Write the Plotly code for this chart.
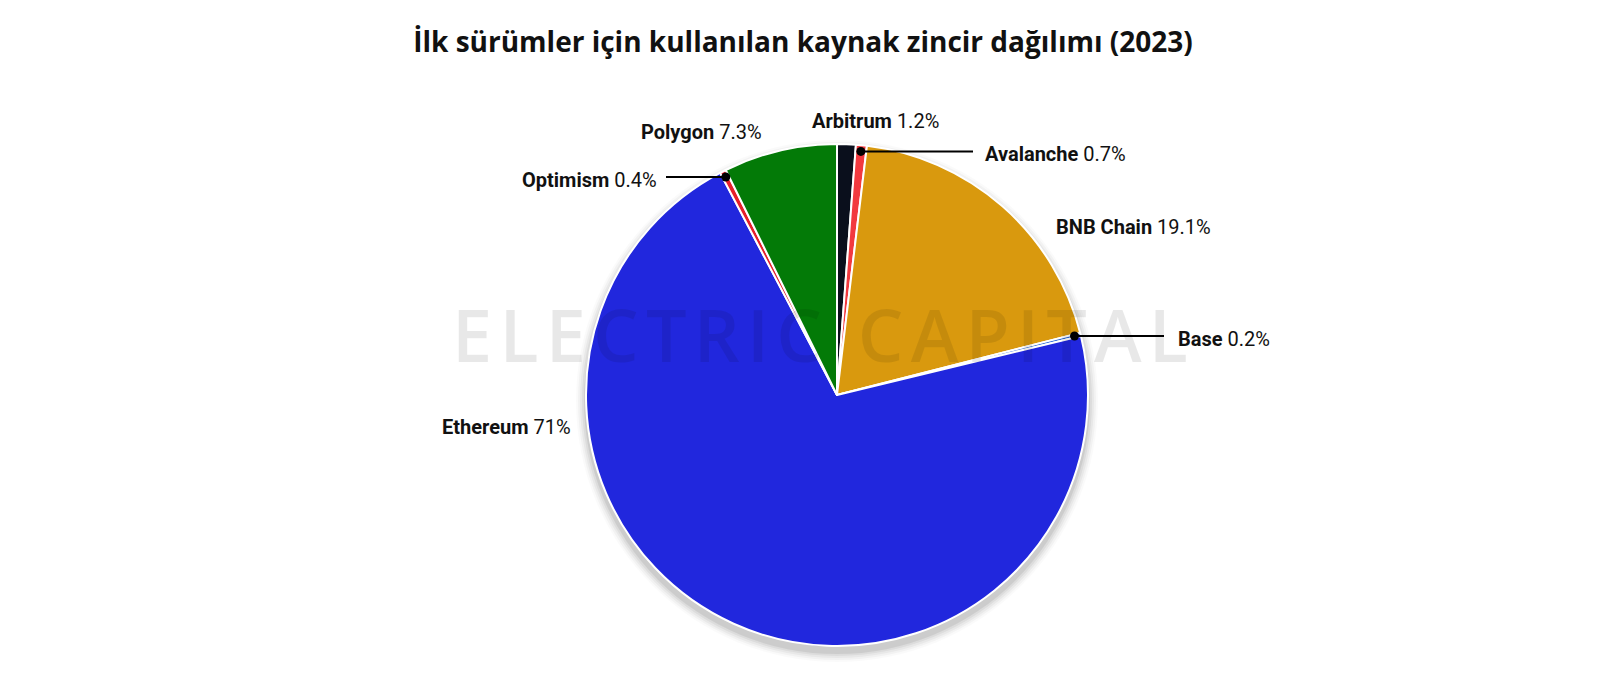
import math
import plotly.graph_objects as go

# ---- data ----
chains = ["Arbitrum", "Avalanche", "BNB Chain", "Base", "Ethereum", "Optimism", "Polygon"]
shares = [1.2, 0.7, 19.1, 0.2, 71.0, 0.4, 7.3]
pct_labels = ["1.2%", "0.7%", "19.1%", "0.2%", "71%", "0.4%", "7.3%"]
colors = ["#0a0f1c", "#f2393f", "#d9990e", "#1e5fd6", "#2127dd", "#e5202a", "#037a07"]

PAGE_W, PAGE_H = 1623, 695
OFF = 8                      # default html body margin
W, H = PAGE_W - 2 * OFF, PAGE_H - 2 * OFF
CX, CY, R = 837, 395, 251    # pie geometry in page px

def px(x, y):
    return (x - OFF) / W, 1 - (y - OFF) / H

fig = go.Figure()
dx0, dy0 = px(CX - R, CY + R)
dx1, dy1 = px(CX + R, CY - R)
fig.add_trace(go.Pie(
    labels=chains, values=shares, sort=False, direction="clockwise", rotation=0,
    marker=dict(colors=colors, line=dict(color="white", width=2)),
    textinfo="none", hoverinfo="label+percent", showlegend=False,
    domain=dict(x=[dx0, dx1], y=[dy0, dy1]),
))

shapes = []
# soft drop shadow behind the pie
for grow, op in [(10, 0.02), (8, 0.03), (6, 0.04), (4, 0.05), (2, 0.07)]:
    x0, y0 = px(CX - R - grow, CY - R - grow + 6)
    x1, y1 = px(CX + R + grow, CY + R + grow + 6)
    shapes.append(dict(type="circle", xref="paper", yref="paper", x0=x0, x1=x1, y0=y1, y1=y0,
                       fillcolor=f"rgba(0,0,0,{op})", line=dict(width=0), layer="below"))

total = sum(shares)
cum = 0
mid_angle = {}
for c, v in zip(chains, shares):
    mid_angle[c] = (cum + v / 2) / total * 2 * math.pi
    cum += v

# label layout: (x px, y px, xanchor, leader end x px or None)
label_pos = {
    "Arbitrum": (875, 121, "center", None),
    "Avalanche": (983, 156, "left", 973),
    "BNB Chain": (1054, 227, "left", None),
    "Base": (1176, 338, "left", 1164),
    "Ethereum": (573, 427, "right", None),
    "Optimism": (659, 187, "right", 666),
    "Polygon": (701, 132, "center", None),
}

annotations = []
for c, p in zip(chains, pct_labels):
    lx, ly, anch, lend = label_pos[c]
    if lend is not None:
        a = mid_angle[c]
        ddx = CX + 0.975 * R * math.sin(a)
        ddy = CY - 0.975 * R * math.cos(a)
        x0, y0 = px(ddx, ddy)
        x1, _ = px(lend, ddy)
        shapes.append(dict(type="line", xref="paper", yref="paper", x0=x0, y0=y0, x1=x1, y1=y0,
                           line=dict(color="black", width=2)))
        r = 4.5
        cx0, cy0 = px(ddx - r, ddy - r)
        cx1, cy1 = px(ddx + r, ddy + r)
        shapes.append(dict(type="circle", xref="paper", yref="paper", x0=cx0, x1=cx1, y0=cy1, y1=cy0,
                           fillcolor="black", line=dict(width=0)))
        ly = ddy + 3
    ax, ay = px(lx, ly)
    annotations.append(dict(x=ax, y=ay, xref="paper", yref="paper", xanchor=anch, yanchor="middle",
                            showarrow=False, text=f"<b>{c}</b> {p}",
                            font=dict(family="Roboto", size=20, color="#111111")))

# watermark
wm = "\u200a".join("ELECTRIC") + "\u2002" + "\u200a".join("CAPITAL")
wx, wy = px(820, 334)
annotations.append(dict(x=wx, y=wy, xref="paper", yref="paper", showarrow=False,
                        text=wm,
                        font=dict(family="Open Sans", size=72, weight=600, color="rgba(0,0,0,0.09)")))

tx, ty = px(803, 42)
fig.update_layout(
    width=W, height=H,
    paper_bgcolor="white", plot_bgcolor="white",
    margin=dict(l=0, r=0, t=0, b=0),
    title=dict(text="<b>İlk sürümler için kullanılan kaynak zincir dağılımı (2023)</b>",
               x=tx, xanchor="center", y=ty, yanchor="middle",
               font=dict(family="Open Sans", size=28, color="#111111")),
    shapes=shapes, annotations=annotations,
)

fig.write_html("out.html")
